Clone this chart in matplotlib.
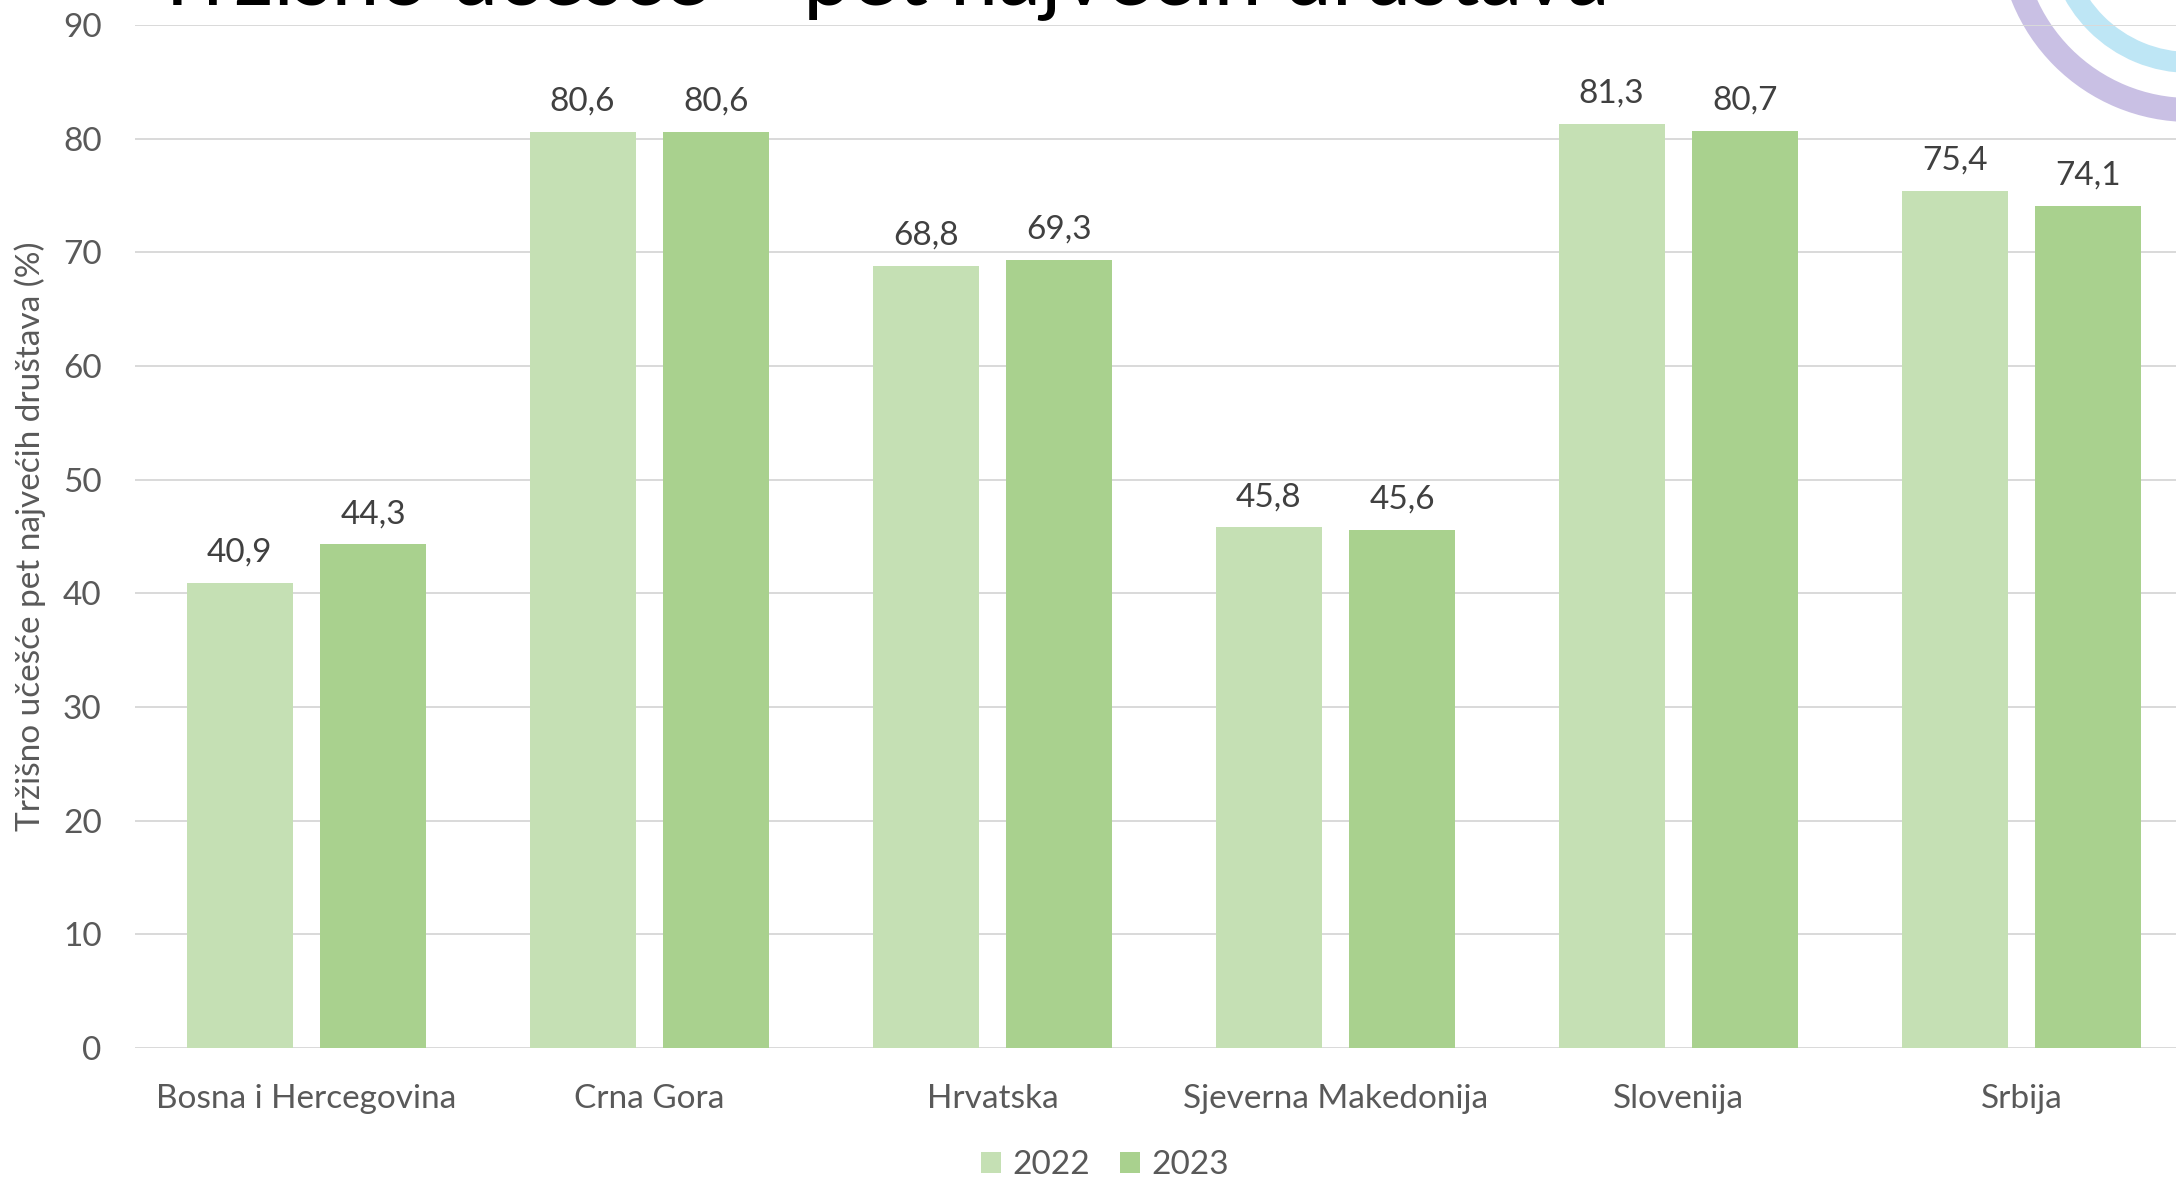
import matplotlib
matplotlib.use("Agg")
import matplotlib.pyplot as plt
import numpy as np
from matplotlib.patches import Wedge

plt.rcParams["font.family"] = ["Lato", "DejaVu Sans"]

countries = ["Bosna i Hercegovina", "Crna Gora", "Hrvatska",
             "Sjeverna Makedonija", "Slovenija", "Srbija"]
share_2022 = [40.9, 80.6, 68.8, 45.8, 81.3, 75.4]
share_2023 = [44.3, 80.6, 69.3, 45.6, 80.7, 74.1]
years = ["2022", "2023"]

title = "Tržišno učešće – pet najvećih društava"
ylabel = "Tržišno učešće pet najvećih društava (%)"

c2022 = "#C5E0B4"
c2023 = "#A9D18E"
txt = "#595959"

W, H = 2176, 1180
fig = plt.figure(figsize=(W / 100, H / 100), dpi=100)

# background layer in pixel coords: decorative arcs + clipped title
bg = fig.add_axes([0, 0, 1, 1], zorder=0)
bg.set_xlim(0, W)
bg.set_ylim(H, 0)
bg.axis("off")
bg.add_patch(Wedge((2190, -70), 192, 0, 360, width=24, color="#C9C0E4", lw=0))
bg.add_patch(Wedge((2190, -70), 143, 0, 360, width=21, color="#BEE6F5", lw=0))
bg.text(1610, 4, title, ha="right", va="baseline", fontsize=62, color="black")

ax = fig.add_axes([135 / W, 132 / H, 2058 / W, 1023 / H], zorder=1)
ax.patch.set_alpha(0)

x = np.arange(len(countries))
bw = 0.309
off = 0.195
b1 = ax.bar(x - off, share_2022, bw, color=c2022, label=years[0], zorder=2)
b2 = ax.bar(x + off, share_2023, bw, color=c2023, label=years[1], zorder=2)

for bars, vals in [(b1, share_2022), (b2, share_2023)]:
    for b, v in zip(bars, vals):
        ax.annotate(f"{v:.1f}".replace(".", ","),
                    (b.get_x() + b.get_width() / 2, v),
                    xytext=(0, 11), textcoords="offset points",
                    ha="center", va="bottom", fontsize=24, color="#404040")

ax.set_xlim(-0.5, len(countries) - 0.5)
ax.set_ylim(0, 90)
ax.set_yticks(range(0, 91, 10))
ax.set_xticks(x)
ax.set_xticklabels(countries)
ax.yaxis.grid(True, color="#D9D9D9", lw=1.4, zorder=0)
ax.set_axisbelow(True)
ax.tick_params(axis="both", length=0, labelsize=24, labelcolor=txt)
ax.tick_params(axis="y", pad=24)
ax.tick_params(axis="x", pad=26)
for s in ax.spines.values():
    s.set_visible(False)
ax.set_ylabel(ylabel, fontsize=24, color=txt)
ax.yaxis.set_label_coords(-(135 - 46) / 2058, 0.5)

fig.legend(loc="center", bbox_to_anchor=(1105 / W, 15 / H), ncol=2,
           frameon=False, fontsize=24, labelcolor=txt,
           handlelength=0.6, handleheight=0.6, handletextpad=0.35,
           columnspacing=0.9)

fig.savefig("out.png", dpi=100)
